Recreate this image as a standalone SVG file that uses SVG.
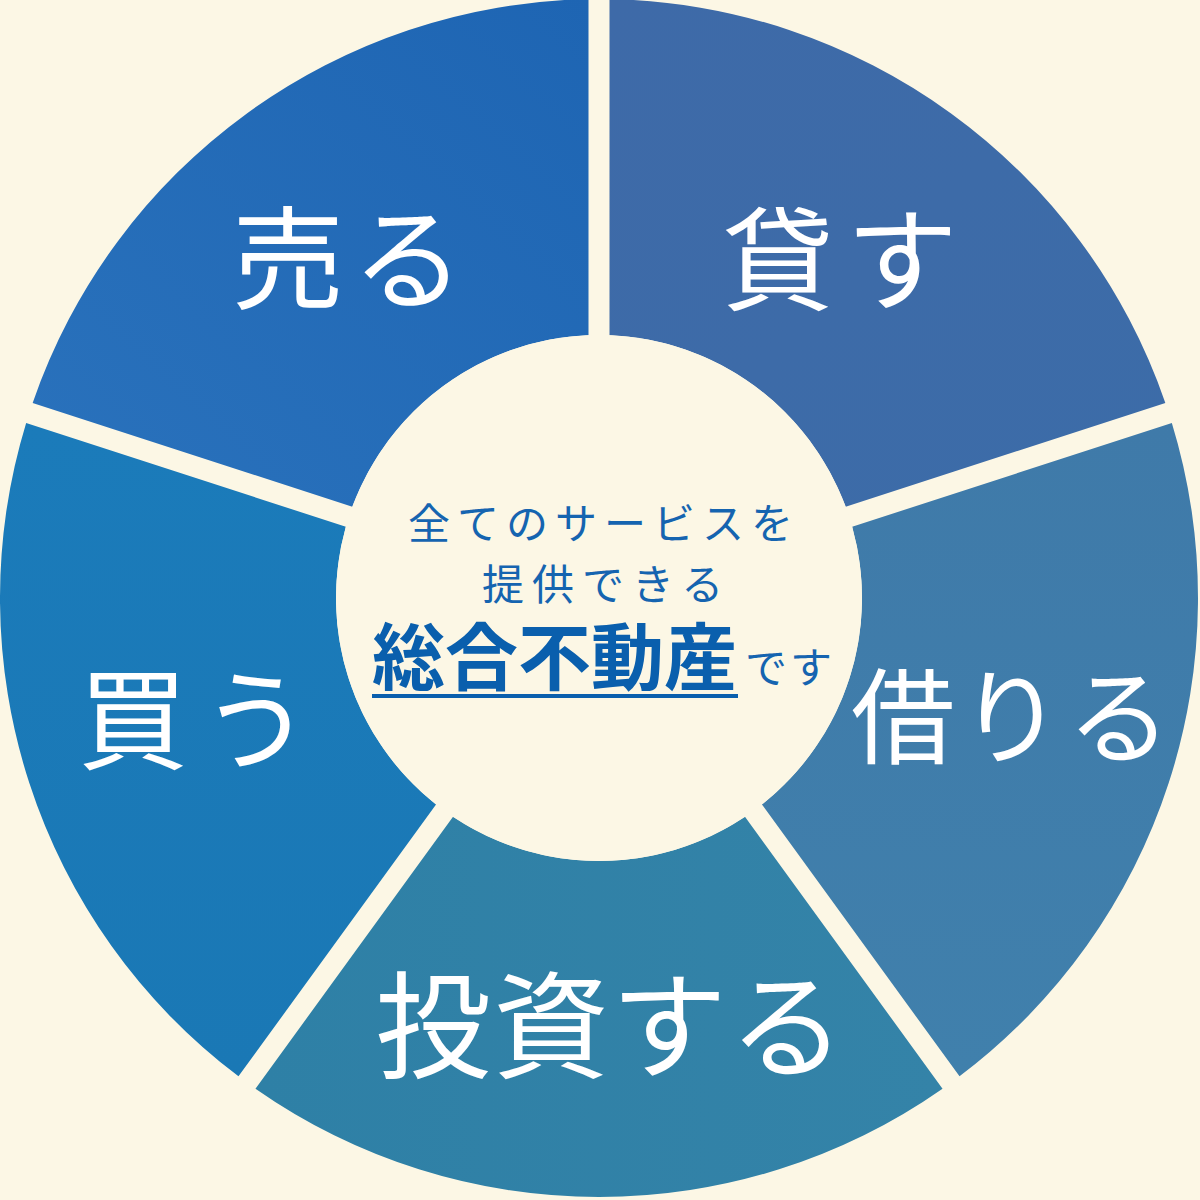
<svg xmlns="http://www.w3.org/2000/svg" width="1200" height="1200" viewBox="0 0 1200 1200">
  <style>
    .seg-label { font-family: "Noto Sans CJK JP", "Noto Sans", sans-serif; fill: #ffffff; font-weight: 400; }
    .center-text { font-family: "Noto Sans CJK JP", "Noto Sans", sans-serif; fill: #1564b0; font-weight: 400; }
    .center-bold { font-family: "Noto Sans CJK JP", "Noto Sans", sans-serif; fill: #0a5fad; font-weight: 700; }
  </style>
  <defs>
    <linearGradient id="gUru" x1="0" y1="1" x2="1" y2="0">
      <stop offset="0" stop-color="#2a72bc"/>
      <stop offset="1" stop-color="#1e65b3"/>
    </linearGradient>
    <linearGradient id="gKasu" x1="0" y1="0" x2="1" y2="1">
      <stop offset="0" stop-color="#3e6aa8"/>
      <stop offset="1" stop-color="#3c6ca8"/>
    </linearGradient>
    <linearGradient id="gKariru" x1="0" y1="0" x2="0" y2="1">
      <stop offset="0" stop-color="#3f7aa9"/>
      <stop offset="1" stop-color="#4080ac"/>
    </linearGradient>
    <linearGradient id="gToshi" x1="0" y1="0" x2="1" y2="0">
      <stop offset="0" stop-color="#2e80a6"/>
      <stop offset="1" stop-color="#3483a8"/>
    </linearGradient>
    <linearGradient id="gKau" x1="0" y1="0" x2="0" y2="1">
      <stop offset="0" stop-color="#1b7bba"/>
      <stop offset="1" stop-color="#1a78b5"/>
    </linearGradient>
  </defs>
  <rect x="0" y="0" width="1200" height="1200" fill="#fcf7e5"/>

  <g id="connectors"></g>

  <g id="node-uru">
    <path d="M 32.65 402.94 A 599 599 0 0 1 588.5 -0.91 L 588.5 335.21 A 263 263 0 0 0 352.32 506.81 Z" fill="url(#gUru)"/>
    <text class="seg-label" x="232" y="301" font-size="112" letter-spacing="8">売る</text>
  </g>
  <g id="node-kasu">
    <path d="M 609.5 -0.91 A 599 599 0 0 1 1165.35 402.94 L 845.68 506.81 A 263 263 0 0 0 609.5 335.21 Z" fill="url(#gKasu)"/>
    <text class="seg-label" x="722" y="302" font-size="112" letter-spacing="12">貸す</text>
  </g>
  <g id="node-kariru">
    <path d="M 1171.84 422.91 A 599 599 0 0 1 959.52 1076.36 L 761.96 804.43 A 263 263 0 0 0 852.17 526.78 Z" fill="url(#gKariru)"/>
    <text class="seg-label" x="851" y="756" font-size="104" letter-spacing="4">借りる</text>
  </g>
  <g id="node-toshi">
    <path d="M 942.53 1088.70 A 599 599 0 0 1 255.47 1088.70 L 453.03 816.77 A 263 263 0 0 0 744.97 816.77 Z" fill="url(#gToshi)"/>
    <text class="seg-label" x="375" y="1069" font-size="116" letter-spacing="2">投資する</text>
  </g>
  <g id="node-kau">
    <path d="M 238.48 1076.36 A 599 599 0 0 1 26.16 422.91 L 345.83 526.78 A 263 263 0 0 0 436.04 804.43 Z" fill="url(#gKau)"/>
    <text class="seg-label" x="78" y="761" font-size="110" letter-spacing="13">買う</text>
  </g>

  <g id="node-center">
    <circle cx="599" cy="598" r="263" fill="#fcf7e5"/>
    <text class="center-text" x="408" y="539" font-size="42" letter-spacing="7">全てのサービスを</text>
    <text class="center-text" x="482" y="600" font-size="42" letter-spacing="8">提供できる</text>
    <text class="center-bold" x="372" y="684" font-size="73">総合不動産</text>
    <text class="center-text" x="745" y="683" font-size="42" letter-spacing="3">です</text>
    <rect x="372" y="694" width="366" height="4" fill="#0a5fad"/>
  </g>
</svg>
